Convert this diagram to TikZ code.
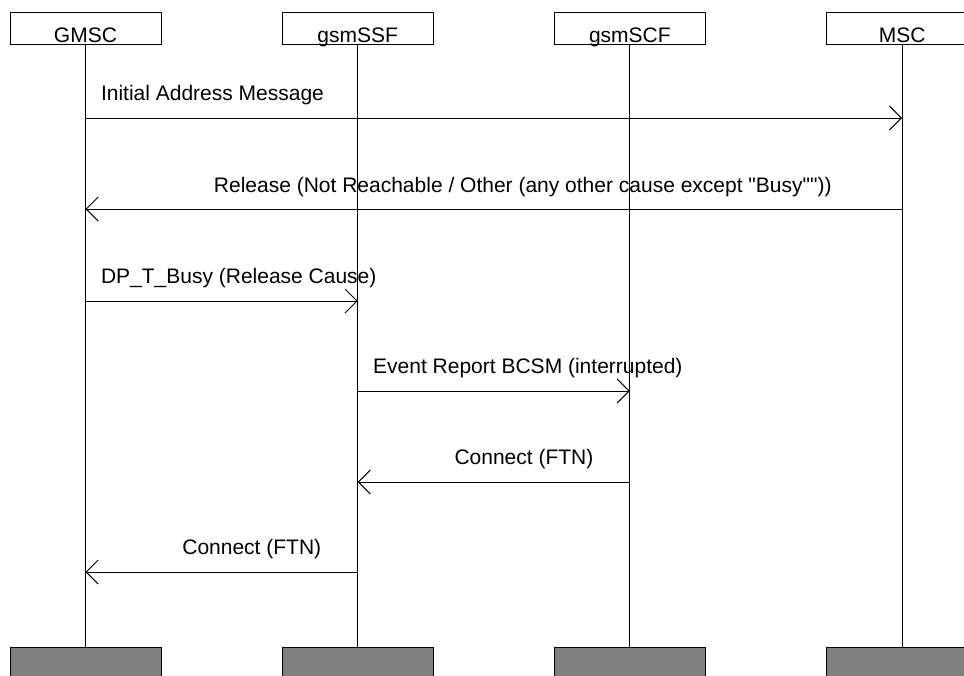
\documentclass[tikz,border=0pt]{standalone}
\usepackage{fontspec}
\setmainfont{Liberation Sans}[Ligatures=TeXOff]
\usetikzlibrary{arrows.meta,positioning}
\definecolor{EndGray}{HTML}{808080}
\tikzset{
  headbox/.style={
    draw,
    line width=0.5pt,
    minimum width=75.5pt,
    minimum height=16pt,
    inner sep=0pt,
    text height=15pt,
    text depth=1pt,
    font=\fontsize{10.5}{12.6}\selectfont
  },
  footbox/.style={
    draw,
    line width=0.5pt,
    fill=EndGray,
    minimum width=75.5pt,
    minimum height=16pt,
    inner sep=0pt
  },
  lifeline/.style={line width=0.5pt},
  msg/.style={-{Straight Barb[length=6pt,width=12pt]}, line width=0.5pt},
  msglabel/.style={font=\fontsize{10.5}{12.6}\selectfont, inner sep=0pt}
}
\begin{document}
\begin{tikzpicture}[
  x=0.5pt, y=-0.5pt,
  node distance=60.1pt
]
\useasboundingbox (0,0) rectangle (964,675);
\node[headbox] (gmsc) at (85.5,28) {GMSC};
\node[headbox, right=of gmsc] (ssf) {gsmSSF};
\node[headbox, right=of ssf] (scf) {gsmSCF};
\node[headbox, right=of scf] (msc) {MSC};
% lifelines down to the end boxes
\foreach \n in {gmsc,ssf,scf,msc} {
  \node[footbox] (\n-end) at (\n |- 0,663) {};
  \draw[lifeline] (\n) -- (\n-end);
}
% message levels
\coordinate (m1) at (0,118);
\coordinate (m2) at (0,209);
\coordinate (m3) at (0,301);
\coordinate (m4) at (0,391);
\coordinate (m5) at (0,482);
\coordinate (m6) at (0,572);
% GMSC -> MSC
\draw[msg] (gmsc |- m1) -- node[msglabel, pos=0, anchor=base west, xshift=7.5pt, yshift=9pt] {Initial Address Message} (msc |- m1);
% MSC -> GMSC
\draw[msg] (msc |- m2) -- node[msglabel, pos=0, anchor=base east, xshift=-35pt, yshift=8.5pt] {Release (Not Reachable / Other (any other cause except "Busy""))} (gmsc |- m2);
% GMSC -> gsmSSF
\draw[msg] (gmsc |- m3) -- node[msglabel, pos=0, anchor=base west, xshift=7.5pt, yshift=9pt] {DP\_T\_Busy (Release Cause)} (ssf |- m3);
% gsmSSF -> gsmSCF
\draw[msg] (ssf |- m4) -- node[msglabel, pos=0, anchor=base west, xshift=7.5pt, yshift=9pt] {Event Report BCSM (interrupted)} (scf |- m4);
% gsmSCF -> gsmSSF
\draw[msg] (scf |- m5) -- node[msglabel, pos=0, anchor=base east, xshift=-18pt, yshift=9pt] {Connect (FTN)} (ssf |- m5);
% gsmSSF -> GMSC
\draw[msg] (ssf |- m6) -- node[msglabel, pos=0, anchor=base east, xshift=-18pt, yshift=9pt] {Connect (FTN)} (gmsc |- m6);
\end{tikzpicture}
\end{document}
